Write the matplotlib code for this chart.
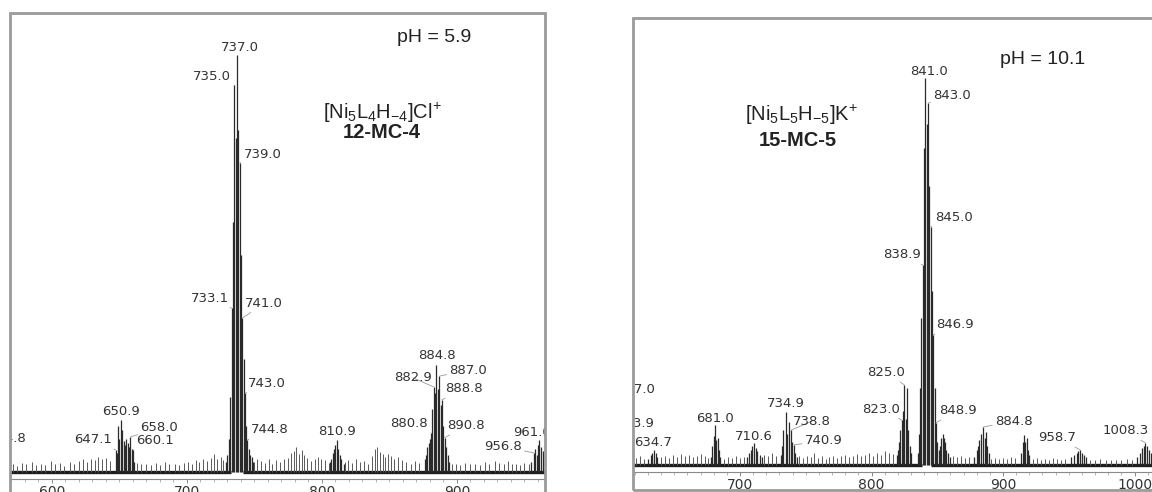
import numpy as np
import matplotlib.pyplot as plt
from matplotlib.patches import Rectangle
from matplotlib.ticker import MultipleLocator

plt.rcParams['font.family'] = ['DejaVu Sans']
plt.rcParams['mathtext.fontset'] = 'custom'
plt.rcParams['mathtext.rm'] = 'Liberation Sans'
plt.rcParams['mathtext.it'] = 'Liberation Sans:italic'
plt.rcParams['mathtext.bf'] = 'Liberation Sans:bold'

W, H = 1152, 492

# ---- pH 5.9 : peaks (m/z, relative intensity %) ----
mz_a = [564.8,
        647.1, 648.0, 649.0, 650.0, 650.9, 652.0, 653.0, 654.0, 655.0, 656.0, 657.0, 658.0, 659.0, 660.1, 661.0,
        729.0, 730.0, 731.0, 732.0, 733.1, 734.0, 735.0, 736.0, 737.0, 738.0, 739.0, 740.0, 741.0, 742.0,
        743.0, 744.0, 744.8, 746.0, 747.0, 748.0, 749.0,
        806.0, 807.0, 808.0, 809.0, 810.0, 810.9, 812.0, 813.0, 814.0, 816.0,
        876.0, 877.0, 878.0, 879.0, 880.0, 880.8, 881.8, 882.9, 883.8, 884.8, 885.8, 887.0, 887.9, 888.8,
        889.8, 890.8, 891.8, 893.0, 894.0,
        955.0, 956.8, 958.0, 959.0, 960.0, 961.0, 962.0, 963.5, 965.0]
int_a = [8.0,
         5.3, 4.5, 11.0, 8.0, 12.5, 10.0, 7.5, 6.5, 8.0, 7.0, 6.0, 8.4, 5.5, 5.3, 2.5,
         2.5, 4.0, 8.0, 18.0, 39.3, 60.0, 92.8, 80.0, 100.0, 82.0, 74.1, 52.0, 36.9, 27.0,
         18.9, 11.0, 7.7, 5.5, 4.0, 3.5, 2.5,
         2.5, 3.0, 4.5, 5.5, 6.5, 7.7, 5.5, 4.0, 3.0, 2.0,
         3.0, 4.0, 6.0, 7.0, 8.0, 9.4, 15.0, 20.4, 19.0, 25.7, 20.0, 23.0, 16.0, 17.3,
         11.0, 8.2, 6.0, 4.0, 2.5,
         2.5, 4.6, 5.5, 4.0, 6.5, 7.7, 6.0, 5.0, 4.0]
# background spikes
grass_mz_a = [571, 574, 578, 581, 585, 588, 592, 595, 599, 602, 606, 609, 613, 616, 620, 623, 626, 629,
              632, 634, 637, 640, 643, 663, 666, 670, 673, 677, 680, 684, 687, 691, 694, 698, 701, 704,
              707, 709, 712, 715, 718, 720, 722, 725, 727, 750, 752, 755, 758, 761, 763, 766, 769, 772,
              775, 777, 779, 781, 783, 785, 787, 789, 792, 795, 797, 799, 802, 805, 817, 819, 822, 825,
              828, 831, 834, 837, 839, 841, 843, 845, 847, 849, 851, 853, 856, 859, 862, 866, 869, 872,
              896, 899, 902, 906, 910, 913, 917, 921, 924, 928, 931, 935, 938, 941, 944, 947, 950, 953]
grass_int_a = [2.0, 1.5, 2.2, 1.8, 2.5, 1.6, 2.0, 1.7, 2.6, 1.8, 2.2, 1.5, 2.4, 2.0, 2.6, 3.0, 2.4, 3.2,
               2.8, 3.6, 3.0, 3.4, 2.6, 2.2, 1.8, 2.0, 1.6, 2.1, 1.7, 2.3, 1.8, 2.0, 1.6, 2.2, 2.4, 2.0,
               2.8, 2.4, 3.0, 2.6, 3.4, 4.2, 3.0, 3.6, 2.8, 2.4, 3.0, 2.6, 2.2, 3.2, 2.0, 2.8, 2.4, 3.0,
               3.4, 4.5, 5.0, 6.0, 4.4, 5.2, 4.0, 3.4, 2.6, 3.0, 3.6, 3.2, 2.8, 2.2, 2.4, 2.8, 2.2, 3.0,
               2.4, 2.6, 2.0, 3.8, 5.4, 6.0, 4.8, 4.2, 3.6, 4.4, 3.8, 3.0, 3.6, 2.8, 2.4, 2.0, 2.6, 2.2,
               1.8, 2.0, 1.6, 2.2, 1.8, 2.0, 1.6, 2.4, 2.0, 2.6, 2.2, 2.0, 2.6, 1.8, 2.0, 1.6, 2.2, 1.8]
base_a = [(566, 732.5), (741.5, 968)]
labels_a = [737.0, 735.0, 739.0, 733.1, 741.0, 743.0, 744.8, 810.9, 884.8, 887.0, 882.9, 888.8,
            880.8, 890.8, 650.9, 658.0, 647.1, 660.1, 956.8, 961.0, 564.8]

# ---- pH 10.1 ----
mz_b = [613.9, 617.0,
        630.0, 632.0, 633.0, 634.7, 636.0, 637.0,
        678.0, 679.0, 680.0, 681.0, 682.0, 683.0, 684.0, 685.0,
        705.0, 707.0, 708.0, 709.0, 710.6, 712.0, 713.0, 715.0, 717.0,
        731.0, 732.0, 733.0, 734.9, 736.0, 737.0, 738.8, 739.8, 740.9, 742.0, 743.0,
        819.0, 820.0, 821.0, 822.0, 823.0, 824.0, 825.0, 826.0, 827.0, 828.0, 829.0, 830.0,
        835.0, 836.0, 837.0, 838.0, 838.9, 840.0, 841.0, 842.0, 843.0, 844.0, 845.0, 846.0, 846.9,
        848.0, 848.9, 850.0, 851.0,
        852.0, 853.0, 854.0, 855.0, 856.0, 857.0, 858.0, 860.0,
        878.0, 880.0, 881.0, 882.0, 883.0, 884.8, 886.0, 887.0, 888.0, 889.0,
        914.0, 915.0, 916.0, 917.0, 918.0, 919.0, 920.0,
        952.0, 954.0, 956.0, 957.0, 958.7, 960.0, 961.5, 963.0,
        1002.0, 1004.0, 1006.0, 1007.0, 1008.3, 1009.5, 1011.0, 1012.5]
int_b = [6.0, 17.0,
         1.5, 2.5, 3.0, 3.9, 3.0, 2.0,
         2.0, 5.0, 7.5, 10.3, 6.5, 7.0, 4.0, 2.0,
         2.0, 3.0, 4.0, 5.0, 5.7, 4.5, 3.5, 2.5, 2.0,
         2.5, 5.0, 9.0, 13.7, 8.0, 11.0, 9.0, 6.0, 5.2, 3.0, 2.0,
         2.5, 4.0, 6.0, 9.0, 11.6, 14.0, 20.7, 12.0, 20.0, 9.0, 5.0, 3.0,
         3.0, 8.0, 20.0, 38.0, 51.7, 82.0, 100.0, 88.0, 93.5, 72.0, 61.5, 45.0, 33.6,
         20.0, 10.9, 6.0, 4.0,
         5.0, 7.0, 8.0, 7.0, 6.0, 4.0, 3.0, 2.0,
         2.0, 4.0, 5.0, 6.5, 8.0, 9.8, 7.0, 8.5, 5.0, 3.0,
         3.0, 6.0, 7.8, 6.0, 7.0, 4.0, 2.5,
         2.0, 2.5, 3.0, 3.5, 3.9, 3.0, 2.5, 2.0,
         2.0, 3.0, 4.5, 5.0, 5.7, 5.0, 4.0, 3.0]
grass_mz_b = [621, 624, 627, 640, 643, 646, 649, 652, 655, 658, 661, 664, 667, 670, 673, 676, 688, 691,
              694, 697, 700, 703, 718, 721, 724, 727, 745, 748, 751, 754, 756, 759, 762, 765, 768, 771,
              774, 777, 780, 783, 786, 789, 792, 795, 798, 801, 804, 807, 810, 813, 816, 862, 865, 868,
              871, 874, 891, 894, 897, 900, 903, 906, 909, 923, 926, 929, 932, 935, 938, 941, 944, 947,
              966, 970, 974, 978, 982, 986, 990, 994, 998]
grass_int_b = [1.8, 2.2, 1.6, 2.0, 2.4, 1.8, 2.6, 2.0, 2.8, 2.2, 2.6, 2.0, 2.4, 2.8, 2.2, 1.8, 1.6, 2.0,
               1.8, 2.2, 1.8, 2.0, 2.6, 2.2, 3.0, 2.4, 2.2, 1.8, 2.4, 2.0, 3.2, 1.8, 2.2, 1.6, 2.0, 2.4,
               1.8, 2.2, 2.6, 2.0, 2.4, 2.8, 2.2, 2.6, 3.0, 2.4, 3.2, 2.6, 3.6, 3.0, 2.8, 2.4, 2.0, 2.2,
               1.8, 2.0, 1.6, 1.8, 1.5, 1.8, 1.6, 2.0, 1.8, 1.6, 1.8, 1.4, 1.6, 1.4, 1.8, 1.6, 1.4, 1.6,
               1.4, 1.2, 1.5, 1.3, 1.4, 1.2, 1.4, 1.6, 1.4]
base_b = [(616, 838.3), (845.5, 1016)]
labels_b = [841.0, 843.0, 845.0, 838.9, 846.9, 825.0, 823.0, 848.9, 884.8, 958.7, 1008.3,
            734.9, 738.8, 740.9, 681.0, 710.6, 634.7, 617.0, 613.9]

# label offsets in pixels: (dx, dy, ha, leader line)
place_a = {737.0: (3, 8, 'center', False), 735.0: (-3, 9, 'right', True), 739.0: (4, 9, 'left', True),
           733.1: (-3, 10, 'right', True), 741.0: (3, 15, 'left', True), 743.0: (3, 10, 'left', True),
           744.8: (3, 10, 'left', True), 810.9: (0, 8, 'center', False), 884.8: (0, 9, 'center', False),
           887.0: (10, 6, 'left', True), 882.9: (-2, 9, 'right', True), 888.8: (3, 11, 'left', True),
           880.8: (-3, 9, 'right', True), 890.8: (3, 12, 'left', True), 650.9: (0, 8, 'center', False),
           658.0: (10, 9, 'left', True), 647.1: (-4, 10, 'right', True), 660.1: (3, 9, 'left', True),
           956.8: (-12, 6, 'right', True), 961.0: (-26, 7, 'left', False), 564.8: (22, 0, 'right', False)}
place_b = {841.0: (4, 6, 'center', False), 843.0: (5, 8, 'left', True), 845.0: (4, 9, 'left', True),
           838.9: (-2, 10, 'right', True), 846.9: (3, 10, 'left', True), 825.0: (1, 12, 'right', True),
           823.0: (-2, 11, 'right', True), 848.9: (3, 12, 'left', True), 884.8: (12, 6, 'left', True),
           958.7: (-4, 12, 'right', True), 1008.3: (3, 12, 'right', True), 734.9: (0, 8, 'center', False),
           738.8: (2, 9, 'left', True), 740.9: (11, 4, 'left', True), 681.0: (0, 7, 'center', False),
           710.6: (0, 6, 'center', False), 634.7: (-1, 7, 'center', False), 617.0: (24, 10, 'right', False),
           613.9: (27, 18, 'right', False)}

fig = plt.figure(figsize=(W / 100, H / 100), dpi=100)


def box(x0, x1, ytop, ybot):
    return [x0 / W, 1 - ybot / H, (x1 - x0) / W, (ybot - ytop) / H]


def spectrum(ax, mz, inten, gmz, gint, base, labels, place, xlim, ylim):
    ax.set_xlim(*xlim)
    ax.set_ylim(*ylim)
    for s in ['left', 'right', 'top']:
        ax.spines[s].set_visible(False)
    ax.spines['bottom'].set_color('#8a8a8a')
    ax.spines['bottom'].set_linewidth(0.8)
    ax.set_yticks([])
    ax.xaxis.set_major_locator(MultipleLocator(100))
    ax.xaxis.set_minor_locator(MultipleLocator(10))
    ax.tick_params(axis='x', which='major', length=3, width=0.6, color='#777',
                   labelcolor='#333', labelsize=10, pad=1)
    ax.tick_params(axis='x', which='minor', length=2, width=0.5, color='#999')
    for x0, x1 in base:
        ax.plot([x0, x1], [0, 0], color='#1c1c1c', lw=2.4, solid_capstyle='butt')
    ax.vlines(gmz, 0, gint, color='#5a5a5a', lw=0.7)
    ax.vlines(mz, 0, inten, color='#2a2a2a', lw=0.9)
    height = dict(zip(mz, inten))
    for m in labels:
        dx, dy, ha, lead = place[m]
        arrow = dict(arrowstyle='-', color='#999999', lw=0.6, shrinkA=0, shrinkB=0) if lead else None
        t = ax.annotate(f'{m:.1f}', xy=(m, height[m]), xytext=(dx, dy), textcoords='offset pixels',
                        ha=ha, va='center', fontsize=9.5, color='#333333',
                        annotation_clip=False, arrowprops=arrow)
        t.set_clip_box(ax.bbox)


ax1 = fig.add_axes(box(10, 545, 13, 479))
spectrum(ax1, mz_a, int_a, grass_mz_a, grass_int_a, base_a, labels_a, place_a,
         (568.9, 965.2), (-1.68, 110.1))

ax2 = fig.add_axes(box(633, 1152, 18, 472))
spectrum(ax2, mz_b, int_b, grass_mz_b, grass_int_b, base_b, labels_b, place_b,
         (618.6, 1013.3), (-1.81, 115.5))

# grey frames around both spectra
fig.add_artist(Rectangle((10 / W, -0.05), 535 / W, 1 - 13 / H + 0.05, transform=fig.transFigure,
                         fill=False, ec='#9b9b9b', lw=2.0, zorder=10))
fig.add_artist(Rectangle((633 / W, 1 - 490 / H), 600 / W, (490 - 18) / H, transform=fig.transFigure,
                         fill=False, ec='#9b9b9b', lw=2.0, zorder=10))


def ftext(x, y, s, **kw):
    fig.text(x / W, 1 - y / H, s, ha='center', va='center', color='#222222', **kw)


ftext(434, 38, 'pH = 5.9', fontsize=14, family='Liberation Sans')
ftext(382, 113, r'[Ni$_5$L$_4$H$_{-4}$]Cl$^{+}$', fontsize=14.5, family='Liberation Sans')
ftext(382, 133, '12-MC-4', fontsize=14.5, family='Liberation Sans', weight='bold')
ftext(1043, 60, 'pH = 10.1', fontsize=14, family='Liberation Sans')
ftext(802, 115, r'[Ni$_5$L$_5$H$_{-5}$]K$^{+}$', fontsize=14.5, family='Liberation Sans')
ftext(798, 140, '15-MC-5', fontsize=14.5, family='Liberation Sans', weight='bold')

fig.savefig('out.png', dpi=100)
